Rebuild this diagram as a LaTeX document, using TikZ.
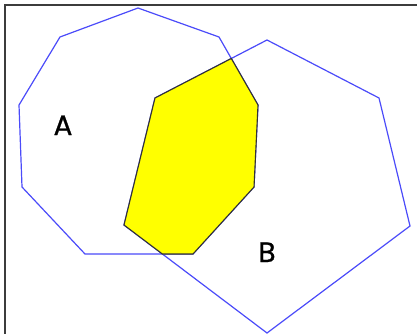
\documentclass[tikz,border=0pt]{standalone}
\usepackage{fontspec}
\setmainfont{Poppins}
\definecolor{polyblue}{RGB}{75,75,250}
\definecolor{frameg}{RGB}{60,60,60}
\definecolor{interyellow}{RGB}{255,255,0}
\tikzset{
  polyline/.style={draw=polyblue, line width=1.2pt, line join=miter},
  interfill/.style={fill=interyellow, draw=black!80, line width=1.1pt, line join=miter},
  framebox/.style={draw=frameg, line width=2pt},
  setlabel/.style={font=\fontsize{28}{30}\selectfont\addfontfeatures{FakeBold=0.8}, inner sep=0pt, text=black},
}
\begin{document}
\begin{tikzpicture}[x=1pt,y=-1pt]
\useasboundingbox (0,0) rectangle (417,334);
\fill[white] (0,0) rectangle (417,334);
% frame (right and bottom sides are outside the picture)
\draw[framebox] (5,340) -- (5,5) -- (425,5);
% polygon A
\coordinate (a1) at (138,8);
\coordinate (a2) at (219,37);
\coordinate (a3) at (258,105);
\coordinate (a4) at (254,187);
\coordinate (a5) at (193,254);
\coordinate (a6) at (85,254);
\coordinate (a7) at (22,187);
\coordinate (a8) at (19,105);
\coordinate (a9) at (60,37);
% polygon B
\coordinate (b1) at (267,40);
\coordinate (b2) at (379,98);
\coordinate (b3) at (410,226);
\coordinate (b4) at (267,333);
\coordinate (b5) at (124,225);
\coordinate (b6) at (155,98);
% intersection corners
\coordinate (i1) at (231.3,58.5);
\coordinate (i2) at (162.4,254);
\draw[polyline] (a1) -- (a2) -- (a3) -- (a4) -- (a5) -- (a6) -- (a7) -- (a8) -- (a9) -- cycle;
\draw[polyline] (b1) -- (b2) -- (b3) -- (b4) -- (b5) -- (b6) -- cycle;
\draw[interfill] (b6) -- (i1) -- (a3) -- (a4) -- (a5) -- (i2) -- (b5) -- cycle;
\node[setlabel, anchor=base] (la) at (63,135) {A};
\node[setlabel, anchor=base] (lb) at (267,262) {B};
\end{tikzpicture}
\end{document}
